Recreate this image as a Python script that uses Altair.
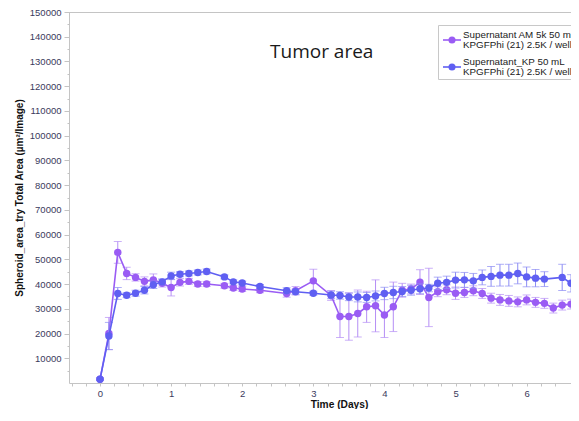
import altair as alt
import pandas as pd

# ---------------- data ----------------
am_t = [0, 0.125, 0.25, 0.375, 0.5, 0.625, 0.75, 0.875, 1.0, 1.125, 1.25, 1.375, 1.5,
        1.75, 1.875, 2.0, 2.25, 2.625, 2.75, 3.0, 3.25, 3.375, 3.5, 3.625, 3.75, 3.875,
        4.0, 4.125, 4.25, 4.375, 4.5, 4.625, 4.75, 4.875, 5.0, 5.125, 5.25, 5.375, 5.5,
        5.625, 5.75, 5.875, 6.0, 6.125, 6.25, 6.375, 6.5, 6.625, 6.75]
am_v = [1500, 20000, 52800, 44300, 42700, 41100, 41700, 40300, 38600, 40700, 41100, 40000, 40000,
        39300, 38400, 38000, 37500, 36200, 37300, 41300, 35400, 26900, 26900, 28100, 30800, 31200,
        27500, 30800, 37500, 38000, 40800, 34600, 36900, 37700, 36300, 36600, 37300, 36200, 34300,
        33600, 33200, 32800, 33600, 32600, 32200, 30300, 31500, 31900, 28500]
am_e = [500, 6500, 4400, 2500, 1500, 1800, 2400, 1500, 3400, 1500, 1200, 1000, 1000,
        1000, 1000, 1000, 1000, 1500, 1700, 4700, 2000, 8500, 9600, 9500, 6300, 10500,
        9100, 10000, 2800, 2000, 5000, 11800, 2000, 2000, 2500, 2000, 2000, 2000, 2000,
        2200, 2200, 2000, 2000, 2000, 2000, 2000, 2000, 2000, 2000]

kp_t = [0, 0.125, 0.25, 0.375, 0.5, 0.625, 0.75, 0.875, 1.0, 1.125, 1.25, 1.375, 1.5,
        1.75, 1.875, 2.0, 2.25, 2.625, 2.75, 3.0, 3.25, 3.375, 3.5, 3.625, 3.75, 3.875,
        4.0, 4.125, 4.25, 4.375, 4.5, 4.625, 4.75, 4.875, 5.0, 5.125, 5.25, 5.375, 5.5,
        5.625, 5.75, 5.875, 6.0, 6.125, 6.25, 6.5, 6.625, 6.75]
kp_v = [1500, 19000, 36200, 35500, 36300, 37500, 39700, 40900, 43300, 44000, 44300, 44700, 45100,
        42900, 40900, 40400, 39000, 37300, 36900, 36300, 35600, 35400, 34800, 34800, 34600, 35200,
        36200, 36600, 37000, 37500, 38100, 38400, 40300, 40700, 41600, 41700, 41300, 42700, 43100,
        43600, 43600, 44300, 42900, 42400, 42000, 42700, 40300, 38000]
kp_e = [500, 5500, 2400, 1000, 1200, 1500, 1500, 1200, 1500, 1000, 1000, 1000, 1000,
        800, 800, 800, 800, 1200, 1000, 800, 1500, 1500, 1500, 2000, 2000, 2000,
        2500, 2500, 2000, 2000, 2000, 1500, 2500, 2500, 3200, 3000, 3000, 3000, 4000,
        4400, 4400, 4200, 4000, 3500, 3000, 5300, 3500, 3000]

series_names = ["Supernatant AM 5k 50 mL", "Supernatant_KP 50 mL"]
legend_line2 = "KPGFPhi (21) 2.5K / well"
title_text = "Tumor area"
x_title = "Time (Days)"
y_title = "Spheroid_area_try Total Area (µm²/Image)"

# ---------------- layout ----------------
W, H = 502, 371
X_DOM = [-0.436, 6.624]
Y_DOM = [0, 150000]

PURPLE = "#9a5cf4"
PURPLE_L = "#b58ef5"
BLUE = "#5f5ff2"
BLUE_L = "#8c8cf4"
AXIS_C = "#c4c4c4"
LABEL_C = "#3a3a5c"


def frame(t, v, e):
    return pd.DataFrame({"t": t, "v": v,
                         "lo": [a - b for a, b in zip(v, e)],
                         "hi": [a + b for a, b in zip(v, e)]})


df_am = frame(am_t, am_v, am_e)
df_kp = frame(kp_t, kp_v, kp_e)

x_ticks = [round(-0.4 + 0.2 * i, 1) for i in range(35)]
y_ticks = list(range(5000, 150001, 5000))

xscale = alt.Scale(domain=X_DOM, nice=False, zero=False)
yscale = alt.Scale(domain=Y_DOM, nice=False, zero=False)

x_axis = alt.Axis(values=x_ticks,
                  labelExpr="abs(datum.value - round(datum.value)) < 0.01 ? format(datum.value, 'd') : ''",
                  tickSize=3, tickColor=AXIS_C, domainColor=AXIS_C, grid=False,
                  labelFont="Liberation Sans", labelFontSize=9.5, labelColor=LABEL_C,
                  labelPadding=2, labelFlush=False, labelOverlap=False,
                  title=x_title, titleFont="Liberation Sans", titleFontSize=10.2,
                  titleFontWeight="bold", titleColor="#111111",
                  titleX=270, titleY=24.5, titleBaseline="alphabetic")
y_axis = alt.Axis(values=y_ticks,
                  labelExpr="datum.value % 10000 == 0 ? format(datum.value, 'd') : ''",
                  tickSize={"condition": {"test": "datum.value % 10000 == 0", "value": 5}, "value": 2},
                  tickColor=AXIS_C, domainColor=AXIS_C, grid=False,
                  labelFont="Liberation Sans", labelFontSize=9.5, labelColor=LABEL_C,
                  labelPadding=3, labelFlush=False, labelOverlap=False,
                  title=y_title, titleFont="Liberation Sans", titleFontSize=10,
                  titleFontWeight="bold", titleColor="#111111", titlePadding=5)


def series_layers(df, col, col_l):
    base = alt.Chart(df)
    X = alt.X("t:Q", scale=xscale, axis=x_axis)
    rules = base.mark_rule(color=col_l, strokeWidth=1, clip=True).encode(
        x=X, y=alt.Y("lo:Q", scale=yscale, axis=y_axis), y2="hi:Q")
    cap_lo = base.mark_tick(color=col_l, thickness=1, size=8, orient="horizontal", clip=True).encode(
        x=X, y=alt.Y("lo:Q", scale=yscale, axis=y_axis))
    cap_hi = base.mark_tick(color=col_l, thickness=1, size=8, orient="horizontal", clip=True).encode(
        x=X, y=alt.Y("hi:Q", scale=yscale, axis=y_axis))
    line = base.mark_line(color=col, strokeWidth=1.6, clip=True).encode(
        x=X, y=alt.Y("v:Q", scale=yscale, axis=y_axis))
    pts = base.mark_circle(color=col, size=55, opacity=1, clip=True).encode(
        x=X, y=alt.Y("v:Q", scale=yscale, axis=y_axis))
    return [rules, cap_lo, cap_hi, line, pts]


layers = series_layers(df_am, PURPLE, PURPLE_L) + series_layers(df_kp, BLUE, BLUE_L)

one = pd.DataFrame({"a": [0]})
# top frame line
top_line = alt.Chart(one).mark_rule(color=AXIS_C, strokeWidth=1).encode(
    x=alt.value(0), x2=alt.value(W), y=alt.value(0.5))

# title
title = alt.Chart(one).mark_text(font="Open Sans", fontSize=19, color="#1a1a1a",
                                 align="center", baseline="alphabetic").encode(
    x=alt.value(252.7), y=alt.value(46), text=alt.value(title_text))

# legend (custom, clipped at the right edge like the reference)
leg_box = alt.Chart(one).mark_rect(fill="white", stroke="#c8c8c8", strokeWidth=1, clip=True).encode(
    x=alt.value(369.5), x2=alt.value(W + 10), y=alt.value(13.5), y2=alt.value(67.5))
leg_layers = [leg_box]
for i, (name, col) in enumerate(zip(series_names, [PURPLE, BLUE])):
    yy = 28 + 27 * i
    leg_layers.append(alt.Chart(one).mark_rule(color=col, strokeWidth=1.6).encode(
        x=alt.value(374), x2=alt.value(392), y=alt.value(yy)))
    leg_layers.append(alt.Chart(one).mark_circle(color=col, size=50, opacity=1).encode(
        x=alt.value(383), y=alt.value(yy)))
    leg_layers.append(alt.Chart(one).mark_text(font="Liberation Sans", fontSize=9.8, color="#222222",
                                               align="left", baseline="middle", clip=True).encode(
        x=alt.value(394), y=alt.value(yy - 5), text=alt.value(name)))
    leg_layers.append(alt.Chart(one).mark_text(font="Liberation Sans", fontSize=9.8, color="#222222",
                                               align="left", baseline="middle", clip=True).encode(
        x=alt.value(394), y=alt.value(yy + 5), text=alt.value(legend_line2)))

chart = alt.layer(*layers, top_line, title, *leg_layers).properties(
    width=W, height=H, autosize="none",
    padding={"left": 61, "top": 4, "right": 0, "bottom": 26},
    background="white",
).configure_view(stroke=None)

chart.save("out.html", embed_options={"renderer": "svg", "actions": False})
